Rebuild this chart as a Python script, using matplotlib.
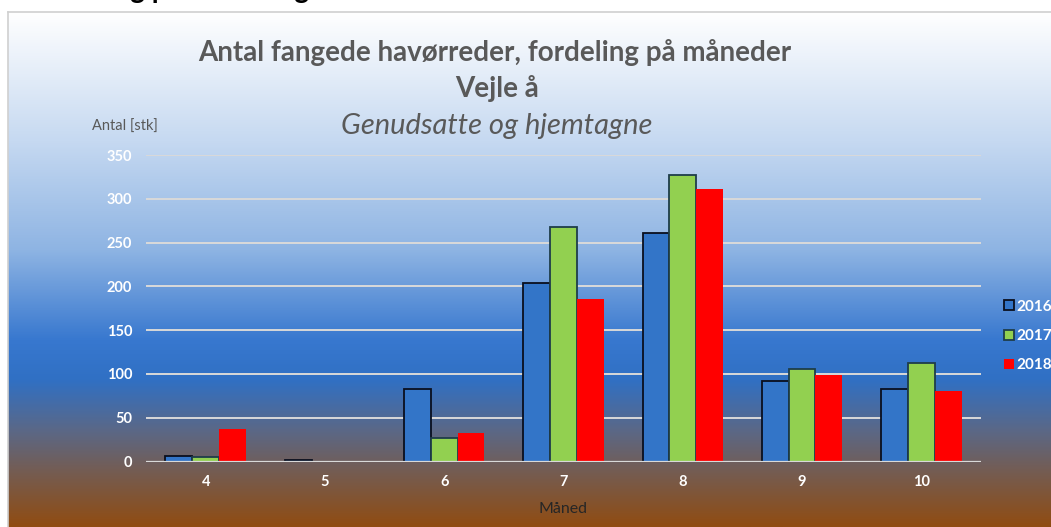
import numpy as np
import matplotlib
matplotlib.use("Agg")
import matplotlib.pyplot as plt
from matplotlib.colors import LinearSegmentedColormap
from matplotlib.patches import Patch

months = ["4", "5", "6", "7", "8", "9", "10"]
years = ["2016", "2017", "2018"]
catch_2016 = [6, 2, 83, 204, 261, 92, 83]
catch_2017 = [5, 0, 27, 268, 327, 106, 113]
catch_2018 = [37, 0, 32, 186, 311, 99, 80]
y_ticks = [0, 50, 100, 150, 200, 250, 300, 350]

BAR_COLORS = ("#3375c8", "#92d050", "#ff0000")
EDGE_COLORS = ("#0a0f1e", "#1e3d4a", "none")
TITLE_COLOR = "#595959"
GRID_COLOR = "#d9d9d9"
FONT = ["Lato", "DejaVu Sans"]

plt.rcParams["font.family"] = FONT

W, H = 1051, 527
fig = plt.figure(figsize=(W / 100, H / 100), dpi=100)
fig.patch.set_facecolor("white")

# gradient chart background
stops = [
    (12, "#ffffff"),
    (140, "#c6d9f1"),
    (250, "#8eb4e3"),
    (340, "#3878cf"),
    (380, "#3070c4"),
    (430, "#5a6888"),
    (470, "#735d55"),
    (527, "#904c12"),
]
cmap = LinearSegmentedColormap.from_list(
    "bg", [((y - 12) / (527 - 12), c) for y, c in stops]
)
bg = fig.add_axes([8 / W, 0, 1, (H - 12) / H])
bg.imshow(np.linspace(0, 1, 256)[:, None], aspect="auto", cmap=cmap,
          extent=[0, 1, 0, 1])
bg.set_xticks([])
bg.set_yticks([])
for side in ("right", "bottom"):
    bg.spines[side].set_visible(False)
for side in ("left", "top"):
    bg.spines[side].set_color("#d0d0d0")
    bg.spines[side].set_linewidth(1.2)

# heading above the chart, cut off by the top edge
fig.text(28 / W, 1 + 2 / H, "Fordeling på måned og år", fontsize=20,
         fontweight="bold", color="black", va="baseline", ha="left")

ax = fig.add_axes([146 / W, (H - 461.5) / H, 835 / W, (461.5 - 155) / H])
ax.patch.set_alpha(0)

x = np.arange(len(months))
width = 0.225
series = [catch_2016, catch_2017, catch_2018]
for i, (vals, year) in enumerate(zip(series, years)):
    ax.bar(x + (i - 1) * width, vals, width, color=BAR_COLORS[i],
           edgecolor=EDGE_COLORS[i], linewidth=1.3, label=year, zorder=3)

ax.set_xlim(-0.5, len(months) - 0.5)
ax.set_ylim(0, 350)
ax.set_yticks(y_ticks)
ax.set_xticks(x)
ax.set_xticklabels(months)
ax.grid(axis="y", color=GRID_COLOR, linewidth=1.4, zorder=0)
for s in ax.spines.values():
    s.set_visible(False)
ax.axhline(0, color=GRID_COLOR, linewidth=1.6, zorder=4)
ax.tick_params(length=0, colors="white", labelsize=10.5)
ax.tick_params(axis="y", pad=10)
ax.tick_params(axis="x", pad=10)
for lbl in ax.get_xticklabels() + ax.get_yticklabels():
    lbl.set_fontweight("bold")

ax.set_xlabel("Måned", fontsize=11.5, color="#262626", labelpad=9)

fig.text(92 / W, 1 - 127 / H, "Antal [stk]", fontsize=10.5, color=TITLE_COLOR,
         va="center", ha="left")

fig.text(495 / W, 1 - 52 / H, "Antal fangede havørreder, fordeling på måneder",
         fontsize=20, fontweight="bold", color=TITLE_COLOR, ha="center", va="center")
fig.text(497 / W, 1 - 88 / H, "Vejle å", fontsize=20, fontweight="bold",
         color=TITLE_COLOR, ha="center", va="center")
fig.text(497 / W, 1 - 126 / H, "Genudsatte og hjemtagne", fontsize=21,
         style="italic", color=TITLE_COLOR, ha="center", va="center")

handles = [Patch(facecolor=BAR_COLORS[i], edgecolor=EDGE_COLORS[i],
                 linewidth=1.3, label=years[i]) for i in range(3)]
leg = fig.legend(handles=handles, loc="center left",
                 bbox_to_anchor=(990 / W, 1 - 336 / H), frameon=False,
                 handlelength=0.65, handleheight=0.65, handletextpad=0.2,
                 labelspacing=1.0, fontsize=11)
for t in leg.get_texts():
    t.set_color("white")
    t.set_fontweight("bold")

fig.savefig("out.png", dpi=100)
